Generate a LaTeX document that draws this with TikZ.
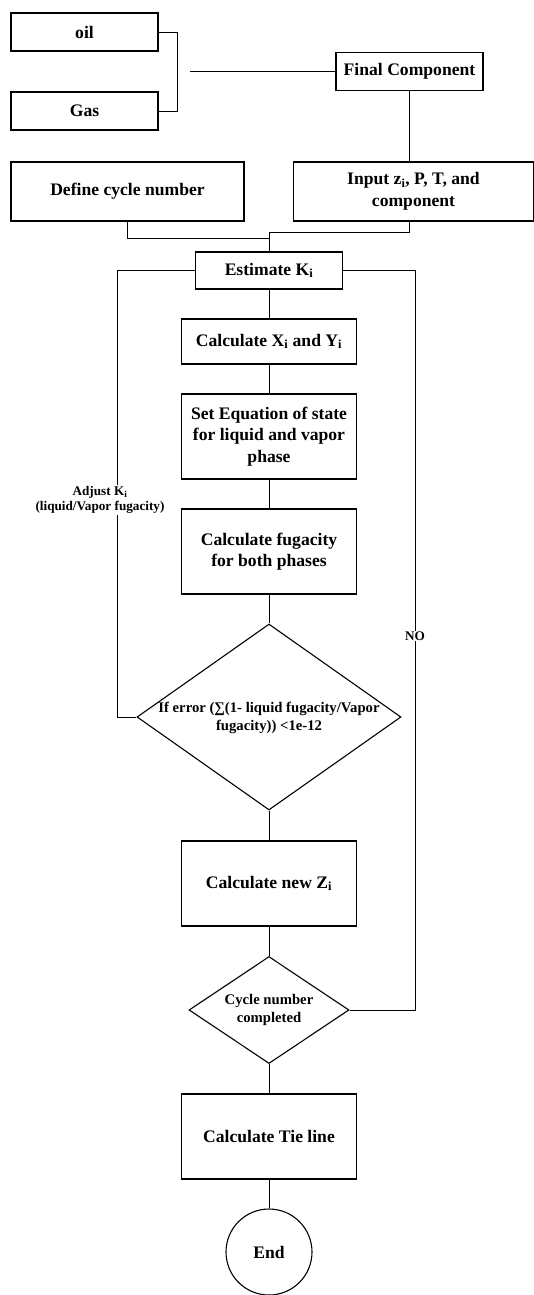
\documentclass[tikz,border=0pt]{standalone}
\usepackage{fontspec}
\setmainfont{Liberation Serif}
\usetikzlibrary{shapes.geometric}

\begin{document}
\begin{tikzpicture}[x=1pt,y=-1pt,
  box/.style={rectangle,draw,line width=1.1pt,inner sep=2pt,align=center,font=\fontsize{17.6}{21.6}\selectfont\bfseries},
  decision/.style={diamond,draw,line width=1.1pt,inner sep=0pt},
  dtext/.style={inner sep=0pt,align=center,font=\fontsize{14.7}{17.7}\selectfont\bfseries},
  note/.style={fill=white,inner sep=1pt,align=center,font=\fontsize{13.2}{15.6}\selectfont\bfseries},
  link/.style={line width=0.8pt}]
  \useasboundingbox (0,0) rectangle (534,1295);

  \node[box,minimum width=147,minimum height=38] (oil) at (84.5,32) {oil};
  \node[box,minimum width=147,minimum height=38] (gas) at (84.5,111) {Gas};
  \node[box,minimum width=147,minimum height=38] (final) at (409.5,71.5) {Final Component};
  \node[box,minimum width=233,minimum height=59] (cycdef) at (127.5,191.5) {Define cycle number};
  \node[box,minimum width=240,minimum height=59] (input) at (413.5,191.5) {Input z\textsubscript{i}, P, T, and\\component};

  \node[box,minimum width=147,minimum height=37] (est) at (269,270.5) {Estimate K\textsubscript{i}};
  \node[box,minimum width=175,minimum height=45] (calcxy) at (269,341.5) {Calculate X\textsubscript{i} and Y\textsubscript{i}};
  \node[box,minimum width=175,minimum height=85] (eos) at (269,436.5) {Set Equation of state\\for liquid and vapor\\phase};
  \node[box,minimum width=175,minimum height=85] (fug) at (269,551.5) {Calculate fugacity\\for both phases};
  \node[decision,minimum width=264,minimum height=186] (err) at (269,717) {};
  \node[dtext] (errtxt) at (269,718) {If error (∑(1- liquid fugacity/Vapor\\fugacity)) <1e-12};
  \node[box,minimum width=175,minimum height=85] (znew) at (269,883.5) {Calculate new Z\textsubscript{i}};
  \node[decision,minimum width=160,minimum height=107] (cyc) at (269,1010) {};
  \node[dtext] (cyctxt) at (269,1010) {Cycle number\\completed};
  \node[box,minimum width=175,minimum height=85] (tie) at (269,1136.5) {Calculate Tie line};
  \node[box,circle,minimum size=86,inner sep=0pt] (fin) at (269,1252) {End};

  \draw[link] (oil.east) -- ++(19,0) |- (gas.east);
  \coordinate (feed) at (190,71.5);
  \draw[link] (feed) -- (final.west);
  \draw[link] (final.south) -- (final.south |- input.north);

  \coordinate (jin) at (269,232);
  \coordinate (jdef) at (269,238);
  \draw[link] (final.south |- input.south) |- (jin) -- (est.north);
  \draw[link] (cycdef.south) |- (jdef);

  \foreach \a/\b in {est/calcxy,calcxy/eos,eos/fug,fug/err,err/znew,znew/cyc,cyc/tie,tie/fin}
    \draw[link] (\a) -- (\b);

  \draw[link] (err.west) -- ++(-19,0) |- (est.west);
  \node[note] (adj) at (100,500) {Adjust K\textsubscript{i}\\(liquid/Vapor fugacity)};
  \draw[link] (cyc.east) -- ++(66,0) |- (est.east);
  \node[note] (no) at (415,636) {NO};
\end{tikzpicture}
\end{document}
